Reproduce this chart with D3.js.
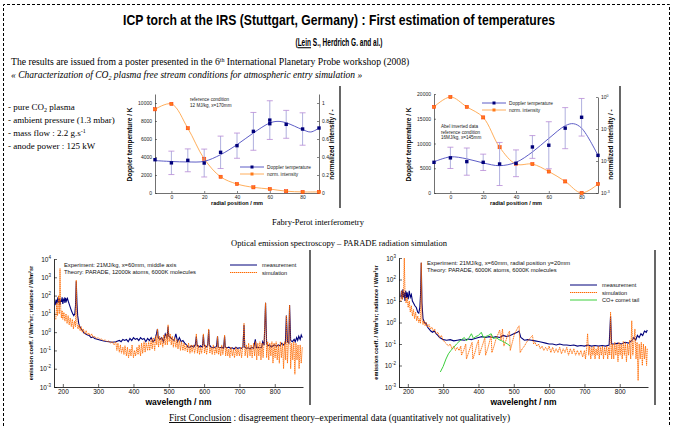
<!DOCTYPE html>
<html>
<head>
<meta charset="utf-8">
<script src="https://cdn.jsdelivr.net/npm/d3@7"></script>
<style>
  body { margin: 0; background: #fff; }
  svg { display: block; }
</style>
</head>
<body>
<div id="chart"></div>
<script>
// ICP torch slide: two Fabry-Perot plots on top, two emission spectra below

// --- Fabry-Perot, 12 MJ/kg, x=170mm (linear intensity) ---
const fpRadius = [-10, 0, 10, 20, 30, 40, 50, 60, 70, 80, 90];
const fpTempA = [3700, 3350, 3630, 3330, 4520, 5260, 6850, 8100, 7630, 7110, 7220];
const fpErrA = [0, 1300, 1270, 1550, 1800, 1400, 2100, 2150, 1550, 1800, 0];
const fpExtraA = [[60, 7700]];
const fpFitA = [[-10, 3600], [0, 3500], [10, 3450], [20, 3520], [30, 4260], [40, 5370], [50, 6670], [60, 7780], [65, 7960], [70, 7800], [80, 7040], [85, 6780], [90, 7220]];
const fpIntA = [0.93, 0.99, 0.72, 0.38, 0.18, 0.10, 0.063, 0.044, 0.02, 0.012, 0.012];

// --- Fabry-Perot, 16 MJ/kg, x=145mm (log intensity) ---
const fpTempB = [6200, 7100, 6340, 6200, 5860, 6000, 9300, 9650, 13100, 15300, 7600];
const fpErrB = [0, 2150, 2750, 1650, 4350, 2700, 2300, 4750, 4150, 3800, 0];
const fpFitB = [[-10, 6300], [0, 7300], [10, 6900], [20, 6070], [30, 5520], [40, 6200], [50, 8280], [60, 11030], [70, 13590], [75, 14000], [80, 13100], [90, 7590]];
const fpIntB = [0.49, 1.0, 0.49, 0.23, 0.027, 0.008, 0.008, 0.0047, 0.0023, 0.001, 0.0019];

const fpTempTicks = [[0, 2000, 4000, 6000, 8000, 10000], [0, 5000, 10000, 15000, 20000]];
const fpIntTicks = [0, 0.2, 0.4, 0.6, 0.8, 1];
const fpRadTicks = [0, 20, 40, 60, 80];

// --- spectra, middle axis (A) ---
const measA = [[178, 30], [181, 60], [183, 35], [186, 80], [188, 40], [190, 70], [192, 30], [194, 60], [196, 45], [198, 80], [200, 35], [202, 60], [204, 70], [206, 40], [208, 75], [210, 50], [213, 70], [216, 45], [219, 30], [222, 20], [225, 14], [228, 10], [231, 8], [234, 10], [236, 30], [238, 600], [240, 40], [242, 8], [245, 3], [248, 2], [252, 1.5], [256, 1.2], [260, 0.9], [265, 0.8], [270, 0.7], [275, 0.65], [280, 0.5], [285, 0.55], [290, 0.45], [300, 0.4], [310, 0.35], [320, 0.32], [330, 0.3], [340, 0.28], [350, 0.3], [360, 0.35], [365, 0.3], [370, 0.4], [375, 0.35], [380, 0.4], [385, 0.3], [390, 0.45], [395, 0.35], [400, 0.5], [405, 0.4], [410, 0.45], [415, 0.35], [420, 0.5], [425, 0.4], [430, 0.45], [435, 0.3], [440, 0.45], [445, 0.35], [450, 0.5], [455, 0.3], [460, 0.35], [465, 0.8], [468, 1.5], [470, 0.5], [475, 0.4], [480, 0.5], [485, 0.3], [490, 0.8], [495, 0.5], [498, 2], [500, 0.6], [505, 0.5], [510, 0.4], [515, 0.35], [520, 0.8], [525, 0.3], [530, 0.5], [535, 0.3], [540, 0.35], [545, 0.25], [550, 0.2], [555, 0.15], [560, 0.15], [565, 0.18], [570, 0.15], [575, 0.2], [578, 0.6], [580, 0.2], [585, 0.15], [590, 0.18], [595, 0.15], [598, 0.7], [600, 0.2], [605, 0.15], [610, 0.18], [613, 1.3], [615, 0.2], [620, 0.15], [625, 0.14], [630, 0.15], [635, 0.16], [638, 0.6], [640, 0.15], [645, 0.14], [650, 0.15], [655, 0.13], [658, 0.6], [660, 0.15], [665, 0.14], [670, 0.15], [675, 0.13], [680, 0.14], [685, 0.12], [690, 0.15], [695, 0.13], [700, 0.14], [705, 0.13], [710, 0.15], [713, 2.5], [715, 0.15], [720, 0.13], [725, 0.14], [730, 0.12], [735, 0.15], [740, 0.13], [745, 0.4], [748, 0.14], [752, 0.15], [758, 0.14], [763, 0.15], [766, 0.3], [770, 0.2], [774, 40], [777, 0.25], [780, 0.18], [785, 0.2], [790, 0.15], [795, 0.18], [800, 0.2], [805, 0.17], [810, 0.2], [815, 0.18], [820, 0.25], [825, 0.2], [830, 0.25], [833, 8], [836, 0.3], [840, 0.25], [842, 30], [845, 0.35], [850, 0.3], [855, 0.4], [858, 0.3], [862, 0.5], [865, 0.35], [868, 0.6], [872, 0.4], [875, 0.7], [878, 0.5]];
const simA = [[180, 5], [183, 40], [185, 8], [188, 100], [190, 10], [192, 3000], [194, 20], [196, 6], [198, 15], [200, 5], [203, 12], [206, 4], [209, 10], [212, 3], [215, 8], [218, 2.5], [221, 6], [224, 2], [227, 5], [230, 1.5], [233, 4], [236, 2], [238, 700], [240, 3], [243, 1.5], [246, 2.5], [249, 1.2], [252, 2], [255, 1], [258, 1.5], [262, 0.8], [266, 1.2], [270, 0.7], [274, 0.9], [278, 0.6], [282, 0.8], [286, 0.5], [290, 0.6], [295, 0.45], [300, 0.5], [305, 0.4], [310, 0.42], [315, 0.35], [320, 0.38], [325, 0.3], [330, 0.33], [335, 0.25], [340, 0.3], [345, 0.2], [350, 0.3], [353, 0.1], [356, 0.25], [360, 0.08], [363, 0.2], [366, 0.07], [370, 0.15], [373, 0.06], [376, 0.18], [380, 0.05], [383, 0.15], [386, 0.04], [390, 0.12], [393, 0.05], [396, 0.2], [400, 0.04], [403, 0.1], [406, 0.05], [410, 0.15], [413, 0.06], [416, 0.2], [420, 0.05], [423, 0.25], [426, 0.07], [430, 0.3], [433, 0.08], [436, 0.25], [440, 0.1], [443, 0.3], [446, 0.1], [450, 0.4], [453, 0.12], [456, 0.5], [460, 0.1], [463, 0.6], [466, 0.2], [468, 1.5], [471, 0.15], [474, 0.6], [477, 0.2], [480, 0.5], [483, 0.15], [486, 0.7], [490, 0.2], [493, 0.8], [496, 0.2], [498, 2.5], [501, 0.3], [504, 0.8], [507, 0.2], [510, 0.6], [513, 0.15], [516, 0.5], [520, 0.15], [523, 0.4], [526, 0.12], [530, 0.35], [533, 0.1], [536, 0.3], [540, 0.1], [543, 0.25], [546, 0.1], [550, 0.2], [553, 0.08], [556, 0.25], [560, 0.07], [563, 0.2], [566, 0.08], [570, 0.2], [573, 0.07], [576, 0.15], [578, 0.8], [581, 0.07], [584, 0.2], [587, 0.06], [590, 0.15], [593, 0.07], [596, 0.2], [598, 0.8], [601, 0.07], [604, 0.2], [607, 0.06], [610, 0.15], [613, 1.5], [616, 0.07], [620, 0.15], [623, 0.06], [626, 0.2], [630, 0.06], [633, 0.15], [636, 0.07], [638, 0.6], [641, 0.06], [644, 0.15], [647, 0.05], [650, 0.2], [653, 0.06], [656, 0.15], [658, 0.7], [661, 0.05], [664, 0.15], [667, 0.05], [670, 0.12], [673, 0.04], [676, 0.15], [680, 0.05], [683, 0.12], [686, 0.04], [690, 0.15], [693, 0.05], [696, 0.12], [700, 0.05], [703, 0.15], [706, 0.04], [710, 0.2], [713, 3], [716, 0.05], [720, 0.2], [723, 0.04], [726, 0.25], [730, 0.05], [733, 0.2], [736, 0.04], [740, 0.25], [743, 0.05], [746, 0.3], [749, 0.03], [752, 0.25], [755, 0.05], [758, 0.3], [761, 0.03], [764, 0.25], [767, 0.04], [770, 0.3], [774, 40], [777, 0.04], [780, 0.3], [783, 0.03], [786, 0.25], [789, 0.05], [792, 0.3], [795, 0.02], [798, 0.25], [801, 0.04], [804, 0.3], [807, 0.03], [810, 0.2], [813, 0.02], [816, 0.3], [819, 0.04], [822, 0.25], [825, 0.01], [828, 0.3], [831, 0.03], [833, 8], [836, 0.02], [839, 0.3], [842, 30], [845, 0.01], [848, 0.25], [851, 0.03], [854, 0.3], [857, 0.005], [860, 0.25], [863, 0.03], [866, 0.2], [869, 0.01], [872, 0.2], [875, 0.02], [878, 0.15]];

// --- spectra, radial position y=20mm (B) ---
const measB = [[180, 15], [182, 30], [184, 12], [186, 35], [188, 15], [190, 25], [192, 10], [194, 30], [196, 14], [198, 25], [201, 12], [204, 30], [207, 15], [210, 20], [213, 10], [216, 8], [220, 6], [224, 5], [228, 3], [231, 2.7], [234, 5], [236, 20], [238, 600], [240, 8], [243, 1.5], [247, 1], [252, 0.9], [256, 0.6], [260, 0.5], [265, 0.4], [270, 0.35], [275, 0.4], [280, 0.3], [285, 0.25], [290, 0.2], [295, 0.18], [300, 0.16], [310, 0.15], [320, 0.16], [330, 0.14], [340, 0.15], [350, 0.16], [360, 0.15], [370, 0.17], [380, 0.16], [390, 0.18], [400, 0.2], [410, 0.22], [420, 0.2], [430, 0.22], [440, 0.2], [450, 0.22], [460, 0.2], [470, 0.25], [480, 0.22], [490, 0.25], [500, 0.3], [510, 0.35], [515, 0.4], [520, 0.2], [530, 0.15], [540, 0.16], [550, 0.15], [560, 0.14], [570, 0.13], [580, 0.12], [590, 0.11], [600, 0.1], [610, 0.1], [620, 0.09], [630, 0.1], [640, 0.09], [650, 0.09], [660, 0.085], [670, 0.09], [680, 0.08], [690, 0.085], [700, 0.08], [710, 0.09], [720, 0.08], [730, 0.085], [740, 0.08], [750, 0.085], [760, 0.08], [770, 0.09], [774, 2], [777, 0.1], [785, 0.1], [795, 0.11], [805, 0.1], [815, 0.12], [825, 0.11], [835, 0.15], [840, 0.2], [845, 0.15], [850, 0.25], [855, 0.2], [860, 0.3], [865, 0.25], [870, 0.4], [875, 0.35], [878, 0.45]];
const simB = [[180, 10], [183, 30], [185, 12], [188, 25], [190, 1000], [192, 20], [195, 8], [198, 15], [201, 5], [204, 10], [207, 3], [210, 6], [213, 2], [216, 4], [219, 1.5], [222, 3], [225, 1.2], [228, 2], [231, 1], [234, 1.5], [236, 0.9], [238, 600], [240, 1.5], [243, 0.8], [246, 1.2], [249, 0.7], [252, 1], [256, 0.6], [260, 0.8], [264, 0.5], [268, 0.6], [272, 0.4], [276, 0.5], [280, 0.3], [285, 0.35], [290, 0.2], [295, 0.25], [300, 0.15], [305, 0.12], [310, 0.1], [315, 0.08], [320, 0.1], [325, 0.06], [330, 0.08], [335, 0.05], [340, 0.07], [345, 0.05], [350, 0.08], [352, 0.03], [358, 0.05], [364, 0.1], [366, 0.02], [372, 0.04], [378, 0.08], [382, 0.12], [384, 0.02], [390, 0.04], [396, 0.1], [400, 0.15], [402, 0.03], [408, 0.06], [414, 0.12], [418, 0.2], [420, 0.03], [426, 0.06], [432, 0.14], [436, 0.25], [438, 0.04], [444, 0.08], [450, 0.18], [456, 0.3], [460, 0.45], [464, 0.15], [468, 0.5], [472, 0.08], [478, 0.15], [484, 0.3], [488, 0.4], [490, 0.05], [496, 0.12], [502, 0.3], [508, 0.45], [512, 0.6], [515, 0.7], [518, 0.04], [524, 0.06], [530, 0.08], [536, 0.12], [542, 0.16], [548, 0.2], [553, 0.25], [556, 0.1], [560, 0.12], [565, 0.08], [570, 0.1], [575, 0.06], [580, 0.08], [585, 0.05], [590, 0.07], [595, 0.05], [600, 0.08], [605, 0.04], [610, 0.07], [615, 0.04], [620, 0.06], [625, 0.04], [630, 0.07], [635, 0.035], [640, 0.06], [645, 0.04], [650, 0.07], [655, 0.03], [660, 0.06], [665, 0.035], [670, 0.06], [675, 0.03], [680, 0.05], [685, 0.03], [690, 0.05], [695, 0.025], [700, 0.05], [703, 0.02], [706, 0.06], [709, 0.3], [712, 0.03], [715, 0.08], [718, 0.02], [721, 0.07], [724, 0.03], [727, 0.08], [730, 0.02], [733, 0.06], [736, 0.03], [739, 0.08], [742, 0.02], [745, 0.07], [748, 0.03], [751, 0.08], [754, 0.02], [757, 0.07], [760, 0.03], [763, 0.08], [766, 0.02], [769, 0.07], [772, 0.03], [774, 3], [777, 0.02], [780, 0.1], [783, 0.02], [786, 0.12], [789, 0.03], [792, 0.1], [795, 0.015], [798, 0.12], [801, 0.03], [804, 0.1], [807, 0.02], [810, 0.13], [813, 0.03], [816, 0.12], [819, 0.015], [822, 0.1], [825, 0.03], [828, 0.15], [831, 0.02], [834, 1.2], [837, 0.03], [840, 0.12], [843, 0.5], [846, 0.02], [849, 0.12], [852, 0.002], [855, 0.1], [858, 0.02], [861, 0.12], [864, 0.01], [867, 0.1], [870, 0.02], [873, 0.08], [876, 0.01], [878, 0.06]];
const cometB = [[292, 0.005], [300, 0.009], [308, 0.02], [315, 0.035], [322, 0.05], [330, 0.07], [338, 0.1], [345, 0.13], [352, 0.16], [360, 0.2], [366, 0.14], [372, 0.18], [380, 0.3], [386, 0.18], [392, 0.22], [400, 0.25], [408, 0.35], [414, 0.2], [420, 0.22], [428, 0.25], [436, 0.3], [442, 0.18], [450, 0.2], [458, 0.16], [466, 0.14], [474, 0.12], [482, 0.1], [490, 0.08]];

const specDecades = [1e-3, 1e-2, 1e-1, 1, 1e1, 1e2, 1e3, 1e4];
const specNmTicks = [200, 300, 400, 500, 600, 700, 800];

const sans = 'Liberation Sans, Arial, sans-serif';
const serif = 'Liberation Serif, Times New Roman, serif';
const narrow = 'Liberation Sans Narrow, Arial Narrow, Liberation Sans, sans-serif';
const simColor = '#ff6a00';

const W = 674, H = 426;
const svg = d3.select('#chart').append('svg')
  .attr('width', W)
  .attr('height', H);
svg.append('rect').attr('width', W).attr('height', H).attr('fill', '#fff');

// dashed page frame
svg.append('path')
  .attr('d', 'M3.5,426 V4.5 H669.5 V426')
  .attr('fill', 'none')
  .attr('stroke', '#000')
  .attr('stroke-width', 1)
  .attr('stroke-dasharray', '3,2');

// ---------- header text ----------
svg.append('text')
  .attr('x', 339).attr('y', 25)
  .attr('text-anchor', 'middle')
  .attr('font-family', narrow).attr('font-weight', 'bold').attr('font-size', 15)
  .attr('textLength', 432).attr('lengthAdjust', 'spacingAndGlyphs')
  .text('ICP torch at the IRS (Stuttgart, Germany) : First estimation of temperatures');

// authors line, squeezed like a narrow face
const authors = svg.append('g')
  .attr('transform', 'translate(339,46) scale(0.62,1)')
  .append('text')
  .attr('text-anchor', 'middle')
  .attr('font-family', narrow).attr('font-weight', 'bold').attr('font-size', 10.5);
authors.append('tspan').text('(');
authors.append('tspan').attr('text-decoration', 'underline').text('Lein');
authors.append('tspan').text(' S., Herdrich G. and al.)');

const src = svg.append('text')
  .attr('x', 11).attr('y', 65)
  .attr('font-family', serif).attr('font-size', 9.7);
src.append('tspan').text('The results are issued from a poster presented in the 6');
src.append('tspan').attr('dy', -3).attr('font-size', 6).text('th');
src.append('tspan').attr('dy', 3).text(' International Planetary Probe workshop (2008)');

const ttl = svg.append('text')
  .attr('x', 11).attr('y', 78)
  .attr('font-family', serif).attr('font-size', 9.5).attr('font-style', 'italic');
ttl.append('tspan').text('« Characterization of CO');
ttl.append('tspan').attr('dy', 2).attr('font-size', 6).text('2');
ttl.append('tspan').attr('dy', -2).text(' plasma free stream conditions for atmospheric entry simulation »');

// torch condition bullets
const bullets = [
  ['- pure CO', '2', ' plasma', 'sub'],
  ['- ambient pressure (1.3 mbar)', '', '', ''],
  ['- mass flow : 2.2 g.s', '-1', '', 'sup'],
  ['- anode power : 125 kW', '', '', '']
];
bullets.forEach((b, i) => {
  const t = svg.append('text')
    .attr('x', 8).attr('y', 110 + i * 13)
    .attr('font-family', serif).attr('font-size', 9);
  t.append('tspan').text(b[0]);
  if (b[1]) {
    const dy = b[3] === 'sub' ? 2 : -3.5;
    t.append('tspan').attr('dy', dy).attr('font-size', 6).text(b[1]);
    t.append('tspan').attr('dy', -dy).text(b[2] || ' ');
  }
});

// image edges between panels
[[340, 86, 208], [620, 86, 208], [310, 250, 405], [655, 250, 405]].forEach(d => {
  svg.append('line')
    .attr('x1', d[0]).attr('x2', d[0]).attr('y1', d[1]).attr('y2', d[2])
    .attr('stroke', '#000').attr('stroke-width', 1.2);
});

// ---------- Fabry-Perot plots ----------
function fpChart(o) {
  const g = svg.append('g');
  const x = d3.scaleLinear().domain([-10, 90]).range([o.x0, o.x1]);
  const yT = d3.scaleLinear().domain([0, o.tMax]).range([193, 94]);
  const yI = o.logI
    ? d3.scaleLog().domain([1e-3, 1]).range([193, 97])
    : d3.scaleLinear().domain([0, 1.1]).range([193, 94]);

  const styleAxis = sel => {
    sel.select('.domain').attr('stroke', '#333').attr('stroke-width', 0.7);
    sel.selectAll('.tick line').attr('stroke', '#333').attr('stroke-width', 0.6);
    sel.selectAll('text').attr('font-family', sans).attr('font-size', 5).attr('fill', '#222');
  };

  g.append('g').attr('transform', 'translate(0,193)')
    .call(d3.axisBottom(x).tickValues(fpRadTicks).tickSizeInner(-2).tickSizeOuter(0).tickPadding(2))
    .call(styleAxis);
  g.append('g').attr('transform', `translate(${o.x0},0)`)
    .call(d3.axisLeft(yT).tickValues(o.tTicks).tickSizeInner(-2).tickSizeOuter(0).tickPadding(3).tickFormat(d3.format('d')))
    .call(styleAxis);

  const right = g.append('g').attr('transform', `translate(${o.x1},0)`);
  if (o.logI) {
    right.call(d3.axisRight(yI).tickValues([1e-3, 1e-2, 1e-1, 1]).tickSizeInner(-2).tickSizeOuter(0).tickPadding(3).tickFormat(() => ''))
      .call(styleAxis);
    right.selectAll('.tick text').each(function(d) {
      const t = d3.select(this);
      t.append('tspan').text('10');
      t.append('tspan').attr('dy', -2).attr('font-size', 3.5).text(Math.round(Math.log10(d)));
    });
  } else {
    right.call(d3.axisRight(yI).tickValues(fpIntTicks).tickSizeInner(-2).tickSizeOuter(0).tickPadding(3).tickFormat(d3.format('~g')))
      .call(styleAxis);
  }

  // axis titles
  g.append('text')
    .attr('transform', `translate(${o.x0 - 23},${(193 + 96) / 2}) rotate(-90)`)
    .attr('text-anchor', 'middle')
    .attr('font-family', sans).attr('font-weight', 'bold').attr('font-size', 6.5)
    .text('Doppler temperature / K');
  g.append('text')
    .attr('transform', `translate(${o.x1 + 15},${(193 + 96) / 2}) rotate(-90)`)
    .attr('text-anchor', 'middle')
    .attr('font-family', sans).attr('font-weight', 'bold').attr('font-size', 6.5)
    .text('normalized intensity / -');
  g.append('text')
    .attr('x', (o.x0 + o.x1) / 2).attr('y', 205)
    .attr('text-anchor', 'middle')
    .attr('font-family', sans).attr('font-weight', 'bold').attr('font-size', 5.5)
    .text('radial position / mm');

  // intensity curve + markers
  const intPts = fpRadius.map((r, i) => [r, o.int[i]]);
  g.append('path')
    .datum(intPts)
    .attr('fill', 'none')
    .attr('stroke', '#ffa54a')
    .attr('stroke-width', 0.9)
    .attr('d', d3.line().x(d => x(d[0])).y(d => yI(d[1])).curve(d3.curveCatmullRom));
  g.selectAll('rect.int')
    .data(intPts)
    .enter()
    .append('rect')
    .attr('class', 'int')
    .attr('x', d => x(d[0]) - 1.6)
    .attr('y', d => yI(d[1]) - 1.6)
    .attr('width', 3.2).attr('height', 3.2)
    .attr('fill', '#ff7a1a').attr('stroke', '#ff3300').attr('stroke-width', 0.5);

  // Doppler temperature fit
  g.append('path')
    .datum(o.fit)
    .attr('fill', 'none')
    .attr('stroke', '#4b4bc0')
    .attr('stroke-width', 0.9)
    .attr('d', d3.line().x(d => x(d[0])).y(d => yT(d[1])).curve(d3.curveCatmullRom));

  // error bars
  const errPts = fpRadius.map((r, i) => ({ r, t: o.temp[i], e: o.err[i] })).filter(d => d.e > 0);
  g.selectAll('line.err')
    .data(errPts)
    .enter()
    .append('line')
    .attr('class', 'err')
    .attr('x1', d => x(d.r)).attr('x2', d => x(d.r))
    .attr('y1', d => yT(d.t - d.e)).attr('y2', d => yT(d.t + d.e))
    .attr('stroke', '#9a9ad6').attr('stroke-width', 0.8);
  [-1, 1].forEach(s => {
    g.selectAll(null)
      .data(errPts)
      .enter()
      .append('line')
      .attr('x1', d => x(d.r) - 3).attr('x2', d => x(d.r) + 3)
      .attr('y1', d => yT(d.t + s * d.e)).attr('y2', d => yT(d.t + s * d.e))
      .attr('stroke', '#b88ad6').attr('stroke-width', 0.8);
  });

  // Doppler temperature points
  const tPts = fpRadius.map((r, i) => [r, o.temp[i]]).concat(o.extra || []);
  g.selectAll('rect.temp')
    .data(tPts)
    .enter()
    .append('rect')
    .attr('class', 'temp')
    .attr('x', d => x(d[0]) - 1.7)
    .attr('y', d => yT(d[1]) - 1.7)
    .attr('width', 3.4).attr('height', 3.4)
    .attr('fill', '#00007a');

  // legend
  const lg = g.append('g').attr('transform', `translate(${o.legX},${o.legY})`);
  lg.append('line').attr('x1', 0).attr('x2', 24).attr('y1', 0).attr('y2', 0).attr('stroke', '#4b4bc0').attr('stroke-width', 0.9);
  lg.append('rect').attr('x', 10.5).attr('y', -1.5).attr('width', 3).attr('height', 3).attr('fill', '#00007a');
  lg.append('line').attr('x1', 0).attr('x2', 24).attr('y1', 7).attr('y2', 7).attr('stroke', '#ffa54a').attr('stroke-width', 0.9);
  lg.append('rect').attr('x', 10.5).attr('y', 5.5).attr('width', 3).attr('height', 3).attr('fill', '#ff7a1a');
  lg.selectAll('text')
    .data(['Doppler temperature', 'norm. intensity'])
    .enter()
    .append('text')
    .attr('x', 27).attr('y', (d, i) => i * 7 + 1.8)
    .attr('font-family', sans).attr('font-size', 4.8).attr('fill', '#222')
    .text(d => d);

  // condition note
  g.selectAll('text.note')
    .data(o.note)
    .enter()
    .append('text')
    .attr('class', 'note')
    .attr('x', o.noteX).attr('y', (d, i) => o.noteY + i * 5.5)
    .attr('font-family', sans).attr('font-size', 4.6).attr('fill', '#222')
    .text(d => d);
}

fpChart({
  x0: 155, x1: 319, tMax: 11000, tTicks: fpTempTicks[0], logI: false,
  temp: fpTempA, err: fpErrA, extra: fpExtraA, fit: fpFitA, int: fpIntA,
  legX: 240, legY: 167,
  note: ['reference condition', '12 MJ/kg, x=170mm'], noteX: 190, noteY: 101
});
fpChart({
  x0: 434, x1: 598, tMax: 20000, tTicks: fpTempTicks[1], logI: true,
  temp: fpTempB, err: fpErrB, fit: fpFitB, int: fpIntB,
  legX: 482, legY: 103,
  note: ['Abel inverted data', 'reference condition', '16MJ/kg, x=145mm'], noteX: 441, noteY: 128
});

svg.append('text')
  .attr('x', 318).attr('y', 225)
  .attr('text-anchor', 'middle')
  .attr('font-family', serif).attr('font-size', 8.5)
  .text('Fabry-Perot interferometry');
svg.append('text')
  .attr('x', 339).attr('y', 246)
  .attr('text-anchor', 'middle')
  .attr('font-family', serif).attr('font-size', 8.5)
  .text('Optical emission spectroscopy \u2013 PARADE radiation simulation');

// ---------- emission spectra ----------
function specChart(o) {
  const g = svg.append('g');
  const x = d3.scaleLinear().domain([175, 880]).range([o.x0, o.x1]);
  const y = d3.scaleLog().domain([1e-3, o.yMax]).range([387, o.yTop]);

  const styleAxis = sel => {
    sel.select('.domain').attr('stroke', '#000').attr('stroke-width', 0.8);
    sel.selectAll('.tick line').attr('stroke', '#000').attr('stroke-width', 0.6);
    sel.selectAll('text').attr('font-family', sans).attr('font-size', 6.5).attr('fill', '#111');
  };

  g.append('g').attr('transform', 'translate(0,387)')
    .call(d3.axisBottom(x).tickValues(specNmTicks).tickSizeInner(-3).tickSizeOuter(0).tickPadding(2))
    .call(styleAxis);
  const left = g.append('g').attr('transform', `translate(${o.x0},0)`)
    .call(d3.axisLeft(y).tickValues(specDecades.filter(d => d <= o.yMax)).tickSizeInner(-3).tickSizeOuter(0).tickPadding(3).tickFormat(() => ''))
    .call(styleAxis);
  left.selectAll('.tick text').each(function(d) {
    const t = d3.select(this);
    t.append('tspan').text('10');
    t.append('tspan').attr('dy', -3).attr('font-size', 4.5).text(Math.round(Math.log10(d)));
  });

  g.append('text')
    .attr('x', (o.x0 + o.x1) / 2).attr('y', 405)
    .attr('text-anchor', 'middle')
    .attr('font-family', sans).attr('font-weight', 'bold').attr('font-size', 8.5)
    .text(o.xTitle);
  g.append('text')
    .attr('transform', `translate(${o.x0 - 21},${(387 + o.yTop) / 2}) rotate(-90)`)
    .attr('text-anchor', 'middle')
    .attr('font-family', sans).attr('font-weight', 'bold').attr('font-size', 5.6)
    .text('emission coeff. / W/m³sr; radiance / W/m²sr');

  const line = d3.line().x(d => x(d[0])).y(d => y(d[1]));
  const clip = 'clip-' + o.id;
  g.append('clipPath').attr('id', clip)
    .append('rect').attr('x', o.x0).attr('y', o.yTop - 2).attr('width', o.x1 - o.x0).attr('height', 387 - o.yTop + 2);
  const plot = g.append('g').attr('clip-path', `url(#${clip})`);

  plot.append('path')
    .datum(o.meas)
    .attr('fill', 'none')
    .attr('stroke', '#00007a')
    .attr('stroke-width', 1.1)
    .attr('d', line);
  plot.append('path')
    .datum(o.sim)
    .attr('fill', 'none')
    .attr('stroke', simColor)
    .attr('stroke-width', 0.9)
    .attr('stroke-dasharray', '1.4,0.6')
    .attr('d', line);
  if (o.comet) {
    plot.append('path')
      .datum(o.comet)
      .attr('fill', 'none')
      .attr('stroke', '#3ccf3c')
      .attr('stroke-width', 1)
      .attr('d', line);
  }

  // legend
  const items = [['measurement', '#00007a', null], ['simulation', simColor, '1.4,0.6']];
  if (o.comet) items.push(['CO+ comet tail', '#3ccf3c', null]);
  const lg = g.append('g').attr('transform', `translate(${o.legX},${o.legY})`);
  items.forEach((it, i) => {
    lg.append('line')
      .attr('x1', 0).attr('x2', 27).attr('y1', i * 7.5).attr('y2', i * 7.5)
      .attr('stroke', it[1]).attr('stroke-width', 1).attr('stroke-dasharray', it[2]);
    lg.append('text')
      .attr('x', 32).attr('y', i * 7.5 + 2)
      .attr('font-family', sans).attr('font-size', 5.6).attr('fill', '#111')
      .text(it[0]);
  });

  g.selectAll('text.note')
    .data(o.note)
    .enter()
    .append('text')
    .attr('class', 'note')
    .attr('x', o.noteX).attr('y', (d, i) => o.noteY + i * 6.5)
    .attr('font-family', sans).attr('font-size', 5.8).attr('fill', '#111')
    .text(d => d);
}

specChart({
  id: 'a', x0: 54, x1: 303, yTop: 259, yMax: 1e4,
  meas: measA, sim: simA, xTitle: 'wavelength / nm',
  legX: 230, legY: 265,
  note: ['Experiment: 21MJ/kg, x=60mm, middle axis', 'Theory: PARADE, 12000k atoms, 6000K molecules'],
  noteX: 64, noteY: 267
});
specChart({
  id: 'b', x0: 399, x1: 648, yTop: 258, yMax: 1e3,
  meas: measB, sim: simB, comet: cometB, xTitle: 'wavelenght / nm',
  legX: 570, legY: 285,
  note: ['Experiment: 21MJ/kg, x=60mm, radial position y=20mm', 'Theory: PARADE, 6000K atoms, 6000K molecules'],
  noteX: 427, noteY: 265
});

// ---------- conclusion ----------
const concl = svg.append('text')
  .attr('x', 169).attr('y', 421)
  .attr('font-family', serif).attr('font-size', 9.4);
concl.append('tspan').attr('text-decoration', 'underline').text('First Conclusion');
concl.append('tspan').text(' : disagreement theory\u2013experimental data (quantitatively not qualitatively)');
</script>
</body>
</html>
